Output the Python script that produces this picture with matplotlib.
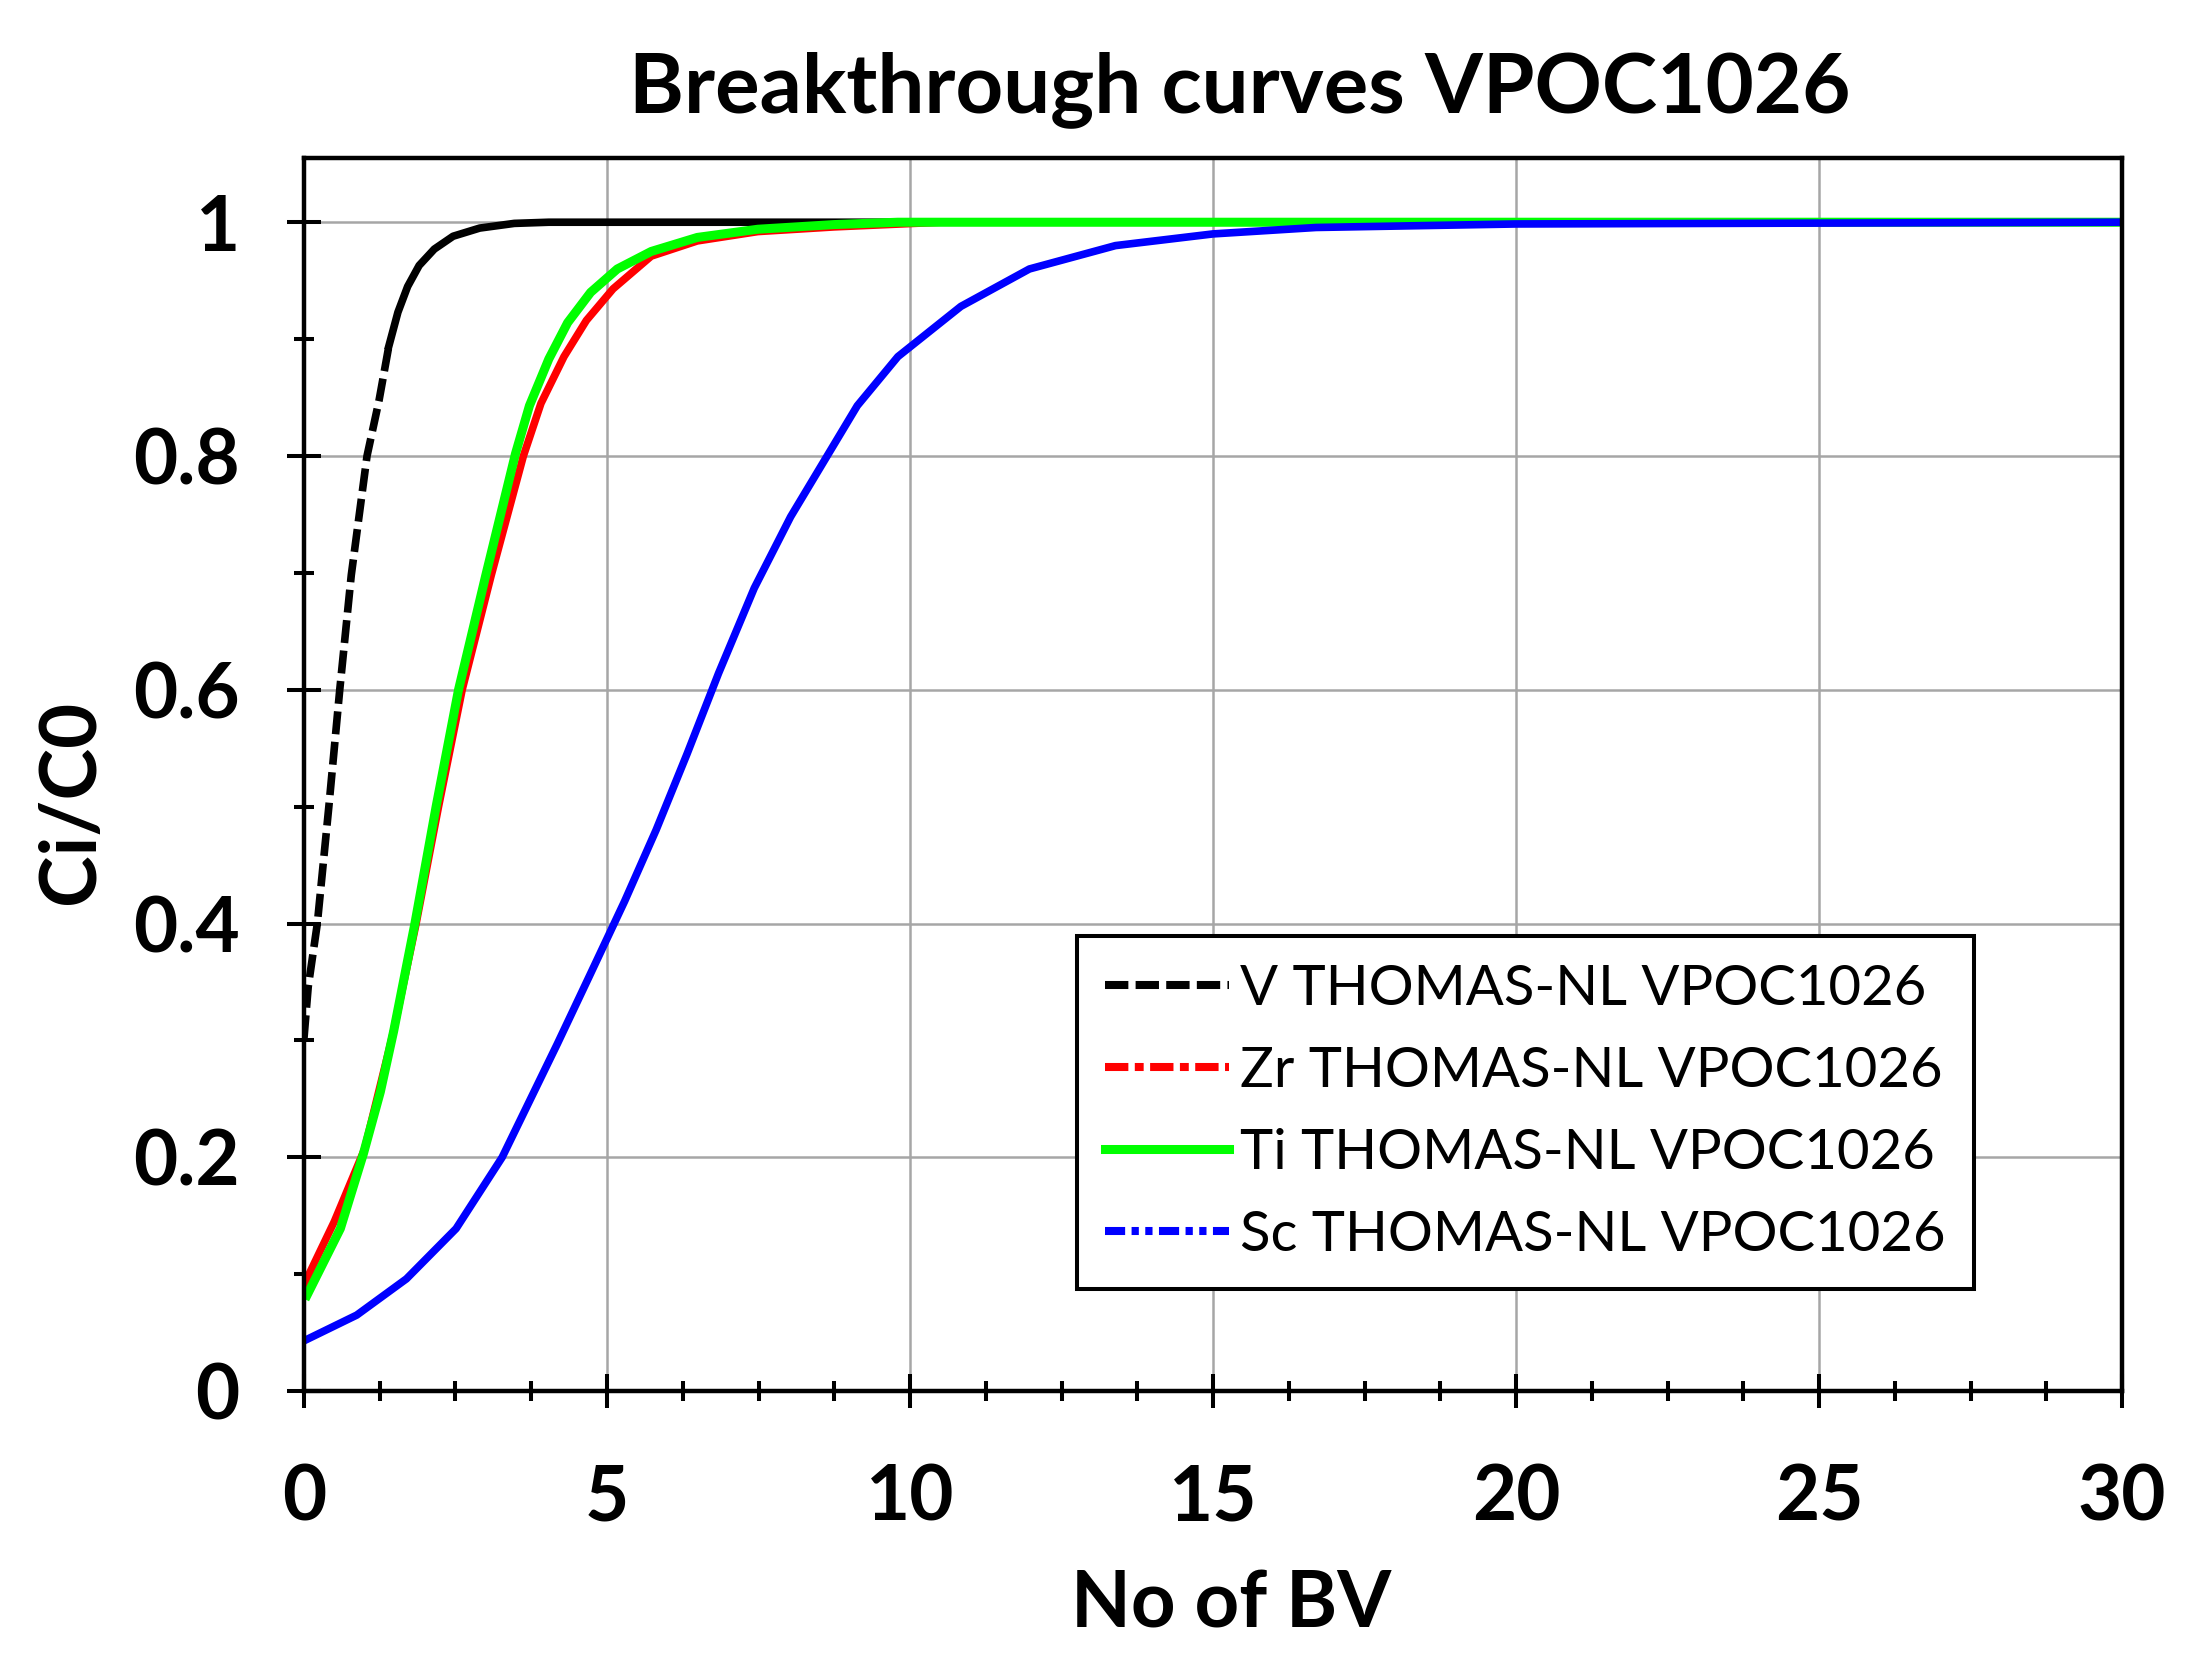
import matplotlib
matplotlib.use("Agg")
import matplotlib.pyplot as plt
from matplotlib.lines import Line2D
from matplotlib.ticker import MultipleLocator, FuncFormatter

plt.rcParams['font.family'] = ['Lato', 'DejaVu Sans']

# values (No of BV, Ci/C0)
v_bv = [0.0, 0.07, 0.22, 0.41, 0.59, 0.78, 1.04, 1.24, 1.40, 1.55, 1.71, 1.90, 2.15, 2.46, 2.90, 3.47, 4.04, 30.0]
v_c = [0.302, 0.346, 0.400, 0.500, 0.600, 0.698, 0.800, 0.848, 0.894, 0.923, 0.945, 0.963, 0.977, 0.988, 0.995, 0.999, 1.0, 1.0]

zr_bv = [0.0, 0.5, 1.0, 1.47, 1.85, 2.22, 2.61, 3.09, 3.62, 3.91, 4.29, 4.66, 5.10, 5.73, 6.49, 7.49, 8.75, 10.5, 30.0]
zr_c = [0.091, 0.145, 0.207, 0.306, 0.400, 0.500, 0.600, 0.698, 0.800, 0.845, 0.885, 0.916, 0.943, 0.971, 0.984, 0.992, 0.996, 1.0, 1.0]

ti_bv = [0.05, 0.60, 0.98, 1.26, 1.48, 1.83, 2.18, 2.55, 3.00, 3.49, 3.72, 4.04, 4.35, 4.73, 5.17, 5.73, 6.49, 7.49, 8.75, 9.80, 30.0]
ti_c = [0.082, 0.139, 0.203, 0.256, 0.308, 0.400, 0.500, 0.600, 0.698, 0.802, 0.843, 0.883, 0.914, 0.940, 0.960, 0.975, 0.987, 0.994, 0.998, 1.0, 1.0]

sc_bv = [0.0, 0.87, 1.69, 2.51, 3.27, 4.18, 4.70, 5.29, 5.81, 6.32, 6.84, 7.43, 8.03, 8.69, 9.13, 9.80, 10.84, 11.97, 13.39, 15.0, 16.7, 20.0, 30.0]
sc_c = [0.043, 0.065, 0.096, 0.139, 0.200, 0.297, 0.354, 0.419, 0.480, 0.545, 0.614, 0.687, 0.748, 0.805, 0.843, 0.885, 0.928, 0.960, 0.980, 0.990, 0.9955, 0.9985, 1.0]

labels = ['V THOMAS-NL VPOC1026', 'Zr THOMAS-NL VPOC1026',
          'Ti THOMAS-NL VPOC1026', 'Sc THOMAS-NL VPOC1026']

fig = plt.figure(figsize=(21.87, 16.59), dpi=100)
ax = fig.add_axes([0.139, 0.1615, 0.8313, 0.7433])

# V curve: dashed on the steep rise, solid where it flattens
k = 9
ax.plot(v_bv[:k], v_c[:k], color='black', lw=5.5, dashes=(3.0, 1.0), zorder=3)
ax.plot(v_bv[k - 1:], v_c[k - 1:], color='black', lw=5.5, zorder=3)
ax.plot(zr_bv, zr_c, color='#ff0000', lw=5.5, zorder=4)
ax.plot(ti_bv, ti_c, color='#00ff00', lw=6.5, zorder=5)
ax.plot(sc_bv, sc_c, color='#0000ff', lw=5.5, zorder=6)

ax.set_xlim(0, 30)
ax.set_ylim(0, 1.055)
ax.xaxis.set_major_locator(MultipleLocator(5))
ax.xaxis.set_minor_locator(MultipleLocator(1.25))
ax.yaxis.set_major_locator(MultipleLocator(0.2))
ax.yaxis.set_minor_locator(MultipleLocator(0.1))
fmt = FuncFormatter(lambda v, p: f'{v:g}')
ax.xaxis.set_major_formatter(fmt)
ax.yaxis.set_major_formatter(fmt)

ax.grid(True, which='major', color='#a6a6a6', lw=1.8, zorder=0)
ax.set_axisbelow(True)
for s in ax.spines.values():
    s.set_linewidth(3.2)
    s.set_zorder(10)

ax.tick_params(which='major', direction='inout', length=24.5, width=2.9,
               labelsize=55)
ax.tick_params(which='minor', direction='inout', length=14.4, width=2.9)
ax.tick_params(axis='y', which='major', pad=34)
ax.tick_params(axis='x', which='major', pad=40)
for t in ax.get_xticklabels() + ax.get_yticklabels():
    t.set_fontweight('bold')

ax.set_xlabel('No of BV', fontsize=56, fontweight='bold', va='baseline')
ax.xaxis.set_label_coords(0.51, -0.1914)
ax.set_ylabel('Ci/C0', fontsize=56, fontweight='bold')
ax.yaxis.set_label_coords(-0.108, 0.4777)

fig.text(0.567, 0.9325, 'Breakthrough curves VPOC1026', ha='center',
         va='baseline', fontsize=60, fontweight='bold')

handles = [
    Line2D([], [], color='black', lw=5.8, dashes=(2.9, 0.9)),
    Line2D([], [], color='#ff0000', lw=5.8, dashes=(2.9, 0.8, 1.1, 0.8)),
    Line2D([], [], color='#00ff00', lw=6.5),
    Line2D([], [], color='#0000ff', lw=5.8, dashes=(2.5, 0.8, 0.9, 0.8, 0.9, 0.8)),
]
leg = ax.legend(handles, labels, loc='lower left', bbox_to_anchor=(0.425, 0.083),
                borderaxespad=0, fontsize=40.5, handlelength=2.2,
                handletextpad=0.2, borderpad=0.5, labelspacing=0.55,
                fancybox=False, framealpha=1, edgecolor='black')
leg.get_frame().set_linewidth(2.9)
leg.set_zorder(20)

fig.savefig('out.png', dpi=100)
